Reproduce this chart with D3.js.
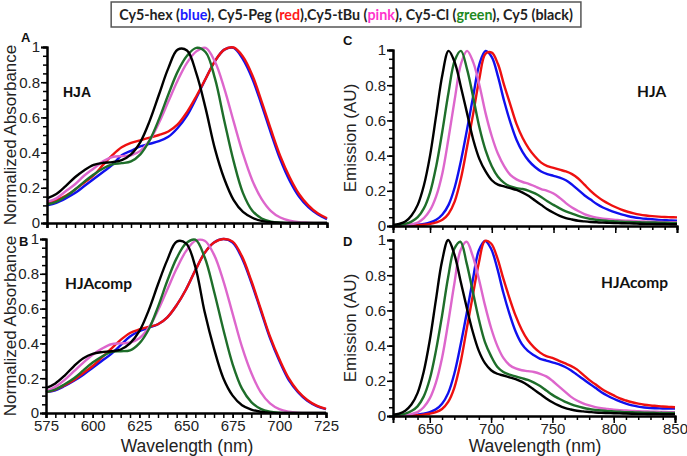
<!DOCTYPE html>
<html><head><meta charset="utf-8">
<script src="https://cdn.jsdelivr.net/npm/d3@7"></script>
<style>body{margin:0;background:#fff}svg{display:block}</style>
</head><body><svg id="c" width="687" height="456"></svg>
<script>
// ---- data ----
const seriesNames = ["Cy5-hex", "Cy5-Peg", "Cy5-tBu", "Cy5-Cl", "Cy5"];
const seriesColors = ["#1010ee", "#ee1010", "#dd66cc", "#1e6e2a", "#000000"];
const absTicks = [575, 600, 625, 650, 675, 700, 725];
const emTicks = [650, 700, 750, 800, 850];
const yTicks = [0, 0.2, 0.4, 0.6, 0.8, 1];
const absWl = [575,580,585,590,595,600,605,610,615,620,625,630,635,640,645,650,655,660,665,670,675,680,685,690,695,700,705,710,715,720,725];
const emWl = [620,625,630,635,640,645,650,655,660,665,670,675,680,685,690,695,700,705,710,715,720,725,730,735,740,745,750,755,760,765,770,775,780,785,790,795,800,805,810,815,820,825,830,835,840,845,850];

// Panel A (HJA absorbance)
const absA_hex = [.10,.115,.14,.17,.21,.25,.29,.33,.385,.41,.435,.45,.465,.49,.54,.61,.71,.82,.92,.985,.995,.93,.82,.67,.51,.36,.24,.15,.09,.05,.022];
const absA_peg = [.115,.13,.155,.19,.23,.27,.33,.385,.43,.455,.47,.485,.50,.52,.56,.63,.72,.82,.92,.985,.997,.945,.84,.69,.53,.38,.26,.165,.10,.055,.027];
const absA_tbu = [.12,.14,.18,.22,.27,.31,.35,.375,.38,.385,.41,.47,.57,.69,.81,.91,.975,.995,.916,.764,.576,.393,.242,.136,.068,.031,.013,.005,.002,0,0];
const absA_cl  = [.105,.12,.15,.19,.235,.275,.31,.333,.34,.35,.39,.47,.59,.73,.86,.95,.995,.97,.82,.58,.35,.17,.07,.026,.008,.002,0,0,0,0,0];
const absA_cy5 = [.14,.165,.21,.26,.30,.33,.342,.346,.357,.39,.46,.58,.73,.88,.985,.98,.85,.65,.42,.25,.13,.063,.03,.012,.004,.001,0,0,0,0,0];
// Panel B (HJAcomp absorbance)
const absB_hex = [.12,.13,.155,.185,.22,.26,.30,.34,.39,.44,.47,.49,.51,.55,.62,.71,.82,.92,.98,1.0,.98,.89,.75,.59,.43,.30,.19,.12,.07,.04,.022];
const absB_peg = [.12,.135,.16,.19,.23,.27,.32,.37,.42,.46,.48,.495,.51,.55,.62,.71,.82,.92,.98,1.0,.985,.90,.76,.60,.44,.31,.20,.125,.075,.042,.024];
const absB_tbu = [.124,.15,.19,.24,.29,.335,.37,.395,.40,.405,.43,.49,.59,.71,.83,.93,.99,.99,.91,.76,.57,.38,.23,.12,.055,.022,.008,.002,0,0,0];
const absB_cl  = [.12,.135,.165,.20,.245,.29,.325,.35,.355,.36,.40,.48,.61,.76,.89,.975,.996,.895,.70,.48,.28,.14,.063,.024,.008,.002,0,0,0,0,0];
const absB_cy5 = [.143,.17,.215,.27,.315,.34,.35,.355,.365,.40,.47,.59,.74,.88,.985,.975,.84,.58,.37,.20,.10,.045,.02,.007,.002,0,0,0,0,0,0];
// Panel C (HJA emission)
const emC_hex = [0,.001,.002,.004,.007,.012,.02,.035,.065,.12,.22,.37,.55,.74,.92,.995,.96,.85,.71,.59,.49,.42,.37,.335,.31,.295,.285,.275,.26,.235,.205,.175,.15,.125,.105,.09,.077,.066,.057,.05,.045,.041,.038,.035,.033,.031,.03];
const emC_peg = [0,0,.001,.002,.004,.007,.012,.02,.035,.07,.14,.27,.45,.64,.84,.98,.985,.92,.80,.69,.58,.50,.44,.395,.36,.34,.33,.32,.31,.295,.27,.235,.20,.17,.145,.125,.108,.093,.081,.072,.065,.06,.056,.053,.051,.05,.049];
const emC_tbu = [.002,.003,.005,.01,.02,.045,.09,.17,.30,.50,.72,.92,.995,.93,.80,.64,.51,.41,.34,.29,.265,.25,.24,.225,.21,.20,.185,.16,.13,.105,.085,.068,.056,.048,.042,.038,.035,.032,.03,.028,.026,.025,.024,.023,.022,.021,.021];
const emC_cl  = [.004,.007,.012,.025,.05,.10,.19,.34,.54,.76,.94,.995,.89,.73,.56,.43,.34,.28,.245,.225,.215,.21,.20,.185,.165,.14,.12,.10,.083,.07,.058,.048,.04,.035,.031,.028,.026,.024,.023,.022,.021,.02,.02,.019,.019,.018,.018];
const emC_cy5 = [.006,.012,.025,.06,.12,.23,.40,.63,.86,.995,.93,.79,.64,.49,.38,.31,.26,.235,.225,.215,.205,.19,.17,.145,.12,.095,.075,.058,.045,.037,.03,.026,.023,.021,.019,.018,.017,.016,.015,.014,.013,.012,.012,.011,.011,.01,.01];
// Panel D (HJAcomp emission)
const emD_hex = [0,.001,.002,.004,.008,.013,.022,.038,.07,.13,.24,.40,.58,.77,.94,.995,.95,.84,.70,.58,.48,.41,.37,.345,.325,.315,.305,.295,.28,.26,.235,.21,.185,.16,.135,.115,.098,.083,.07,.06,.053,.048,.045,.044,.043,.042,.042];
const emD_peg = [0,0,.001,.002,.004,.008,.013,.022,.04,.08,.16,.30,.49,.68,.87,.995,.98,.90,.78,.67,.57,.49,.43,.39,.36,.34,.33,.315,.30,.285,.265,.235,.205,.18,.155,.135,.117,.10,.088,.078,.07,.064,.06,.057,.054,.052,.05];
const emD_tbu = [.002,.003,.006,.011,.022,.05,.10,.19,.33,.53,.75,.94,.99,.91,.78,.63,.50,.40,.33,.29,.27,.26,.255,.25,.24,.225,.20,.17,.14,.11,.088,.072,.06,.05,.044,.04,.036,.033,.031,.029,.027,.026,.025,.024,.023,.022,.022];
const emD_cl  = [.004,.008,.014,.028,.055,.11,.21,.37,.57,.79,.95,.99,.87,.71,.55,.42,.34,.28,.25,.235,.225,.215,.205,.19,.17,.145,.12,.10,.082,.068,.056,.047,.04,.035,.031,.028,.026,.024,.022,.021,.02,.019,.019,.018,.018,.017,.017];
const emD_cy5 = [.007,.014,.03,.065,.13,.25,.43,.66,.88,1.0,.92,.77,.62,.48,.37,.30,.26,.24,.23,.22,.21,.195,.175,.15,.125,.10,.078,.06,.046,.037,.03,.026,.023,.02,.018,.017,.016,.015,.014,.013,.012,.012,.011,.011,.01,.01,.01];

// ---- drawing ----
const svg = d3.select("#c");
const AX = "Liberation Sans, Arial, sans-serif";
const CAL = "Lato, Open Sans, sans-serif";

const panels = [
  {letter:"A", tag:"HJA", wl:absWl, dom:[575,725], x0:47, x1:327, y0:47, y1:223,
   data:[absA_hex,absA_peg,absA_tbu,absA_cl,absA_cy5], labels:false, minor:5, ticks:absTicks,
   ylab:"Normalized Absorbance", tagX:63, tagY:97, tagFont:AX, lx:21, ly:42, ylx:15.5},
  {letter:"B", tag:"HJAcomp", wl:absWl, dom:[575,725], x0:46, x1:326, y0:239, y1:413,
   data:[absB_hex,absB_peg,absB_tbu,absB_cl,absB_cy5], labels:true, minor:5, ticks:absTicks,
   ylab:"Normalized Absorbance", tagX:65, tagY:289, tagFont:CAL, lx:19, ly:246, ylx:15.5},
  {letter:"C", tag:"HJA", wl:emWl, dom:[620,850], x0:393, x1:677, y0:50, y1:226,
   data:[emC_hex,emC_peg,emC_tbu,emC_cl,emC_cy5], labels:false, minor:10, ticks:emTicks,
   ylab:"Emission (AU)", tagX:637, tagY:97, tagFont:CAL, lx:343, ly:45, ylx:356},
  {letter:"D", tag:"HJAcomp", wl:emWl, dom:[620,850], x0:393, x1:675, y0:240, y1:416,
   data:[emD_hex,emD_peg,emD_tbu,emD_cl,emD_cy5], labels:true, minor:10, ticks:emTicks,
   ylab:"Emission (AU)", tagX:601, tagY:288, tagFont:CAL, lx:343, ly:246, ylx:356}
];

panels.forEach(p => {
  const x = d3.scaleLinear().domain(p.dom).range([p.x0, p.x1]);
  const y = d3.scaleLinear().domain([0, 1]).range([p.y1, p.y0]);
  const g = svg.append("g");

  // curves
  const line = d3.line().x(d => x(d[0])).y(d => y(d[1])).curve(d3.curveCatmullRom.alpha(0.5));
  [0, 1, 2, 3, 4].forEach(i => {
    const pts = p.wl.map((w, k) => [w, p.data[i][k]]);
    g.append("path").attr("d", line(pts)).attr("fill", "none")
      .attr("stroke", seriesColors[i]).attr("stroke-width", 2.4).attr("stroke-linejoin", "round");
  });

  // x axis ticks
  const minorVals = d3.range(p.dom[0], p.dom[1] + 0.001, p.minor);
  const xMinor = d3.axisBottom(x).tickValues(minorVals).tickSize(p.minor === 10 ? 4 : 5).tickFormat("");
  const gxm = g.append("g").attr("transform", `translate(0,${p.y1})`).call(xMinor);
  const xMajor = d3.axisBottom(x).tickValues(p.ticks).tickSize(p.minor === 10 ? 7 : 5)
    .tickFormat(p.labels ? d3.format("d") : "");
  const gx = g.append("g").attr("transform", `translate(0,${p.y1})`).call(xMajor);
  [gxm, gx].forEach(a => {
    a.selectAll("path").attr("stroke", "#000").attr("stroke-width", 2);
    a.selectAll("line").attr("stroke", "#000").attr("stroke-width", 1.5);
  });
  gx.selectAll("text").attr("font-family", AX).attr("font-size", 15).attr("fill", "#222")
    .attr("y", 7).attr("dy", "0.71em");

  // y axis
  const yMinorVals = d3.range(0, 1.0001, 0.05);
  const yMinor = d3.axisLeft(y).tickValues(yMinorVals).tickSize(4).tickFormat("");
  const gym = g.append("g").attr("transform", `translate(${p.x0},0)`).call(yMinor);
  const yMajor = d3.axisLeft(y).tickValues(yTicks).tickSize(6)
    .tickFormat(d => d === 0 ? "0" : d === 1 ? "1" : d3.format(".1f")(d));
  const gy = g.append("g").attr("transform", `translate(${p.x0},0)`).call(yMajor);
  [gym, gy].forEach(a => {
    a.selectAll("path").attr("stroke", "#000").attr("stroke-width", 2);
    a.selectAll("line").attr("stroke", "#000").attr("stroke-width", 1.5);
  });
  gy.selectAll("text").attr("font-family", AX).attr("font-size", 15).attr("fill", "#222").attr("x", -7);

  // y label
  const cy = (p.y0 + p.y1) / 2;
  g.append("text").attr("transform", `translate(${p.ylx},${cy}) rotate(-90)`)
    .attr("text-anchor", "middle").attr("font-family", AX).attr("font-size", 17).attr("fill", "#222").text(p.ylab);

  // x label
  if (p.labels) {
    g.append("text").attr("x", (p.x0 + p.x1) / 2 + 1).attr("y", 452).attr("text-anchor", "middle")
      .attr("font-family", AX).attr("font-size", 17.5).attr("fill", "#222").text("Wavelength (nm)");
  }
  // panel letter
  g.append("text").attr("x", p.lx).attr("y", p.ly).attr("font-family", AX).attr("font-weight", "bold")
    .attr("font-size", 13).attr("fill", "#111").text(p.letter);
  // tag
  g.append("text").attr("x", p.tagX).attr("y", p.tagY).attr("font-family", p.tagFont).attr("font-weight", "bold")
    .attr("font-size", p.tagFont === AX ? 14 : 15.5).attr("fill", "#111").text(p.tag);
});

// legend
const legendParts = [
  ["Cy5-hex (", "#222"], ["blue", "#1a1aff"], ["), Cy5-Peg (", "#222"], ["red", "#ff1a1a"],
  ["),Cy5-tBu (", "#222"], ["pink", "#ff33cc"], ["), Cy5-Cl (", "#222"], ["green", "#1f8a1f"],
  ["), Cy5 (black)", "#222"]
];
const lg = svg.append("g");
const lt = lg.append("text").attr("x", 346).attr("y", 20).attr("text-anchor", "middle")
  .attr("font-family", CAL).attr("font-weight", "bold").attr("font-size", 14.3);
legendParts.forEach(([t, c]) => lt.append("tspan").attr("fill", c).text(t));
const bb = lt.node().getBBox();
lg.insert("rect", "text").attr("x", bb.x - 8).attr("y", 2).attr("width", bb.width + 16).attr("height", 25)
  .attr("fill", "#fff").attr("stroke", "#555").attr("stroke-width", 1.5);
</script></body></html>
